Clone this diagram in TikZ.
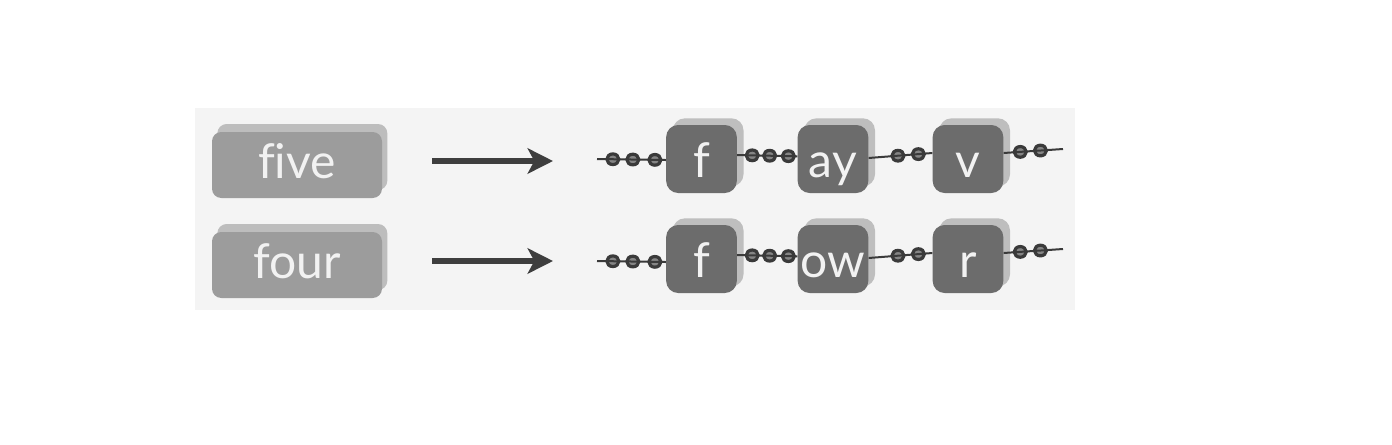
\documentclass[tikz,border=0pt]{standalone}
\usepackage{fontspec}
\setmainfont{Lato}[Ligatures=NoCommon]
\usetikzlibrary{shadows,arrows.meta,shapes.geometric}
\definecolor{panel}{HTML}{F4F4F4}
\definecolor{wordfill}{HTML}{9C9C9C}
\definecolor{wordshadow}{HTML}{BDBDBD}
\definecolor{phonefill}{HTML}{6C6C6C}
\definecolor{phoneshadow}{HTML}{BEBEBE}
\definecolor{txt}{HTML}{F2F2F2}
\definecolor{chaincol}{HTML}{3A3A3A}
\definecolor{beadfill}{HTML}{858585}
\definecolor{arrowcol}{HTML}{3E3E3E}
\tikzset{
  wordbox/.style={rounded corners=7pt, fill=wordfill, text=txt,
    minimum width=127.5pt, minimum height=49.5pt, inner sep=0pt,
    font=\fontsize{36}{36}\selectfont, text height=25.2pt, text depth=5pt,
    general shadow={fill=wordshadow, shadow xshift=4pt, shadow yshift=6pt}},
  phonebox/.style={rounded corners=9pt, fill=phonefill, text=txt,
    minimum width=53pt, minimum height=51pt, inner sep=0pt,
    font=\fontsize{36}{36}\selectfont, text height=28.8pt, text depth=1.8pt,
    general shadow={fill=phoneshadow, shadow xshift=5pt, shadow yshift=5pt}},
  bead/.style={ellipse, draw=chaincol, fill=beadfill, line width=2.4pt,
    minimum width=9pt, minimum height=8pt, inner sep=0pt},
  chainline/.style={draw=chaincol, line width=1.5pt},
  bigarrow/.style={draw=arrowcol, line width=4.5pt,
    -{Stealth[length=19pt, width=19pt, inset=5pt]}}
}
\begin{document}
\begin{tikzpicture}[x=0.75pt, y=-0.75pt]
\useasboundingbox (0,0) rectangle (1392,444);
\fill[panel] (195,108) rectangle (1075,310);
\foreach \r/\y/\w/\pa/\pb/\pc/\ls in {1/159/five/f/ay/v/1, 2/259/four/f/ow/r/3} {
  % word box and arrow
  \node[wordbox] (w\r) at (297,\y+6) {\w};
  \coordinate (t\r) at (553,\y+2);
  \draw[bigarrow, shorten <=37.5pt] ([yshift=3pt]w\r.east) -- (t\r);
  % phone boxes
  \node[phonebox] (a\r) at (701.5,\y) {\pa};
  \node[phonebox] (b\r) at (833,\y) {\pb};
  \node[phonebox] (c\r) at (968,\y) {\pc};
  \coordinate (s\r) at (597,\y+\ls-1);
  \coordinate (e\r) at (1063,\y-10);
  % beads
  \path (s\r) -- ([yshift=-\ls*0.75pt]a\r.west)
    node[bead,pos=0.23]{} node[bead,pos=0.52]{} node[bead,pos=0.84]{};
  \path ([yshift=3pt]a\r.east) -- ([yshift=2pt]b\r.west)
    node[bead,pos=0.25]{} node[bead,pos=0.54]{} node[bead,pos=0.85]{};
  \path ([yshift=0.75pt]b\r.east) -- ([yshift=4.5pt]c\r.west)
    node[bead,pos=0.46]{} node[bead,pos=0.78]{};
  \path ([yshift=4.5pt]c\r.east) -- (e\r)
    node[bead,pos=0.28]{} node[bead,pos=0.62]{};
  % chain lines
  \draw[chainline] (s\r) -- ([yshift=-\ls*0.75pt]a\r.west);
  \draw[chainline] ([yshift=3pt]a\r.east) -- ([yshift=2pt]b\r.west);
  \draw[chainline] ([yshift=0.75pt]b\r.east) -- ([yshift=4.5pt]c\r.west);
  \draw[chainline] ([yshift=4.5pt]c\r.east) -- (e\r);
}
\end{tikzpicture}
\end{document}
